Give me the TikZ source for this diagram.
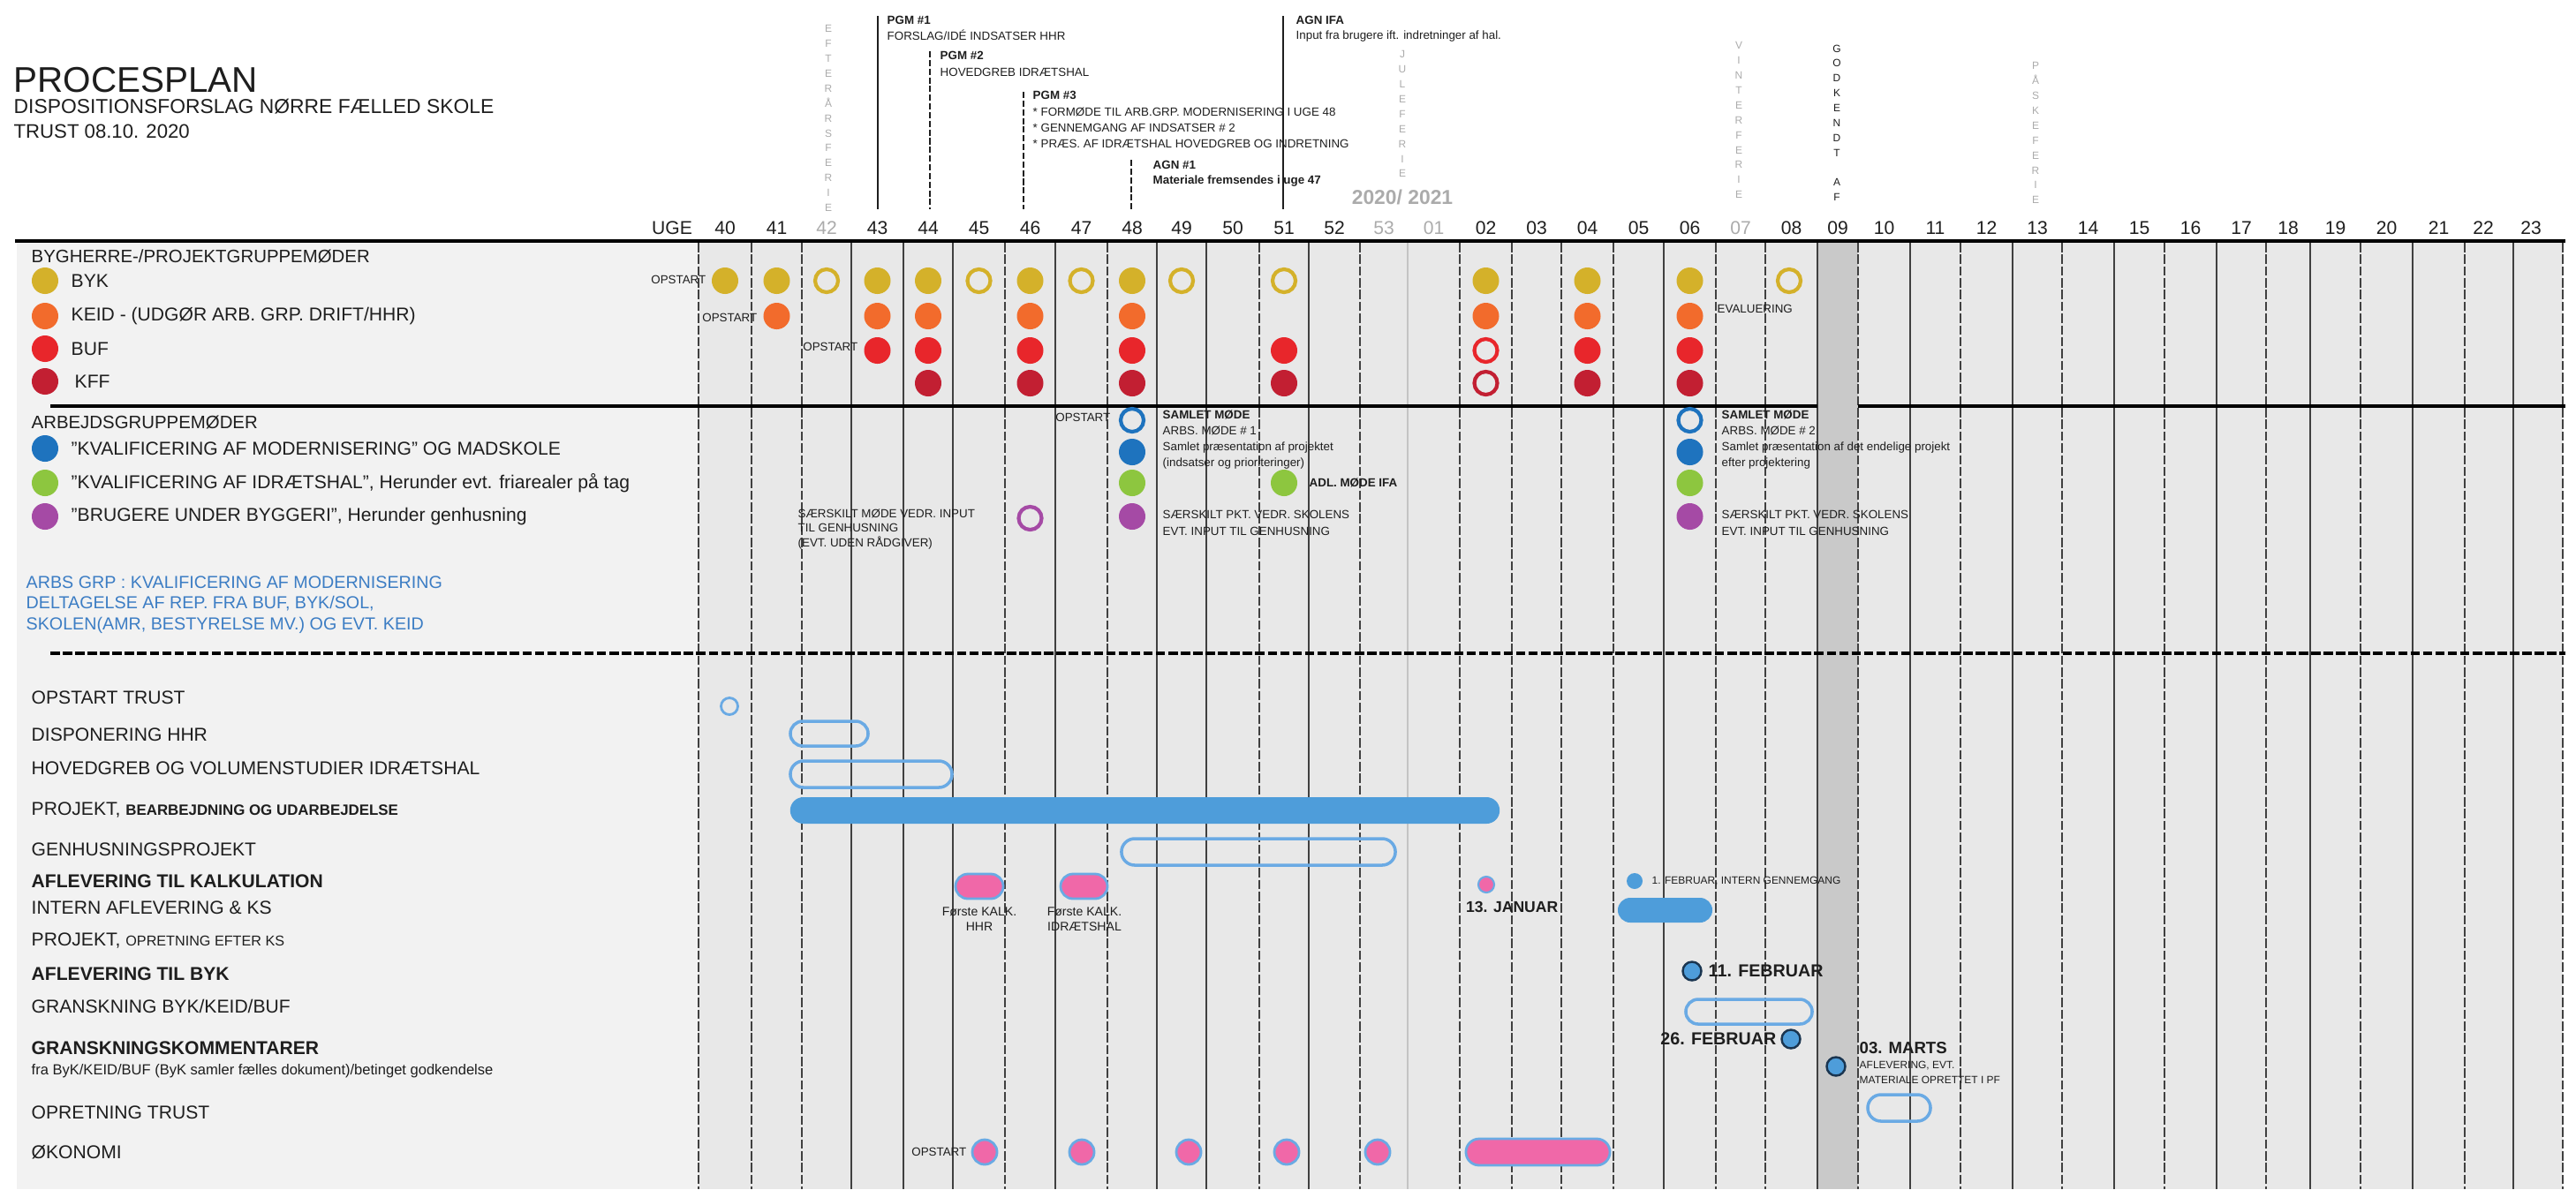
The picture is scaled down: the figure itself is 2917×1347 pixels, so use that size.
\documentclass[tikz,border=0pt]{standalone}
\usepackage{fontspec}
\setmainfont{Liberation Sans}
\usetikzlibrary{shapes.misc}

\definecolor{bykgold}{HTML}{D4B12A}
\definecolor{keidorange}{HTML}{F26B2C}
\definecolor{bufred}{HTML}{E8262B}
\definecolor{kffred}{HTML}{C21F32}
\definecolor{modblue}{HTML}{1E73BE}
\definecolor{idrgreen}{HTML}{8DC63F}
\definecolor{brugpurple}{HTML}{A54AA5}
\definecolor{barblue}{HTML}{4E9DDA}
\definecolor{ringblue}{HTML}{6AAAE4}
\definecolor{kalkpink}{HTML}{F068A8}
\definecolor{navy}{HTML}{1A3550}
\definecolor{panelgrey}{HTML}{F2F2F2}
\definecolor{colgrey}{HTML}{E8E8E8}
\definecolor{bandgrey}{HTML}{C9C9C9}
\definecolor{ferie}{HTML}{ABABAB}
\definecolor{arbsblue}{HTML}{3C7DC4}
\definecolor{ink}{HTML}{1E1E1E}

\tikzset{dot/.style = {circle, inner sep=0pt, minimum size=3mm},
         ring/.style = {circle, inner sep=0pt, minimum size=2.6mm, line width=1.2pt},
         bykdot/.style = {dot, fill=bykgold}, bykring/.style = {ring, draw=bykgold},
         keiddot/.style = {dot, fill=keidorange},
         bufdot/.style = {dot, fill=bufred}, bufring/.style = {ring, draw=bufred},
         kffdot/.style = {dot, fill=kffred}, kffring/.style = {ring, draw=kffred},
         moddot/.style = {dot, fill=modblue}, modring/.style = {ring, draw=modblue},
         idrdot/.style = {dot, fill=idrgreen},
         brugdot/.style = {dot, fill=brugpurple}, brugring/.style = {ring, draw=brugpurple},
         datodot/.style = {circle, inner sep=0pt, minimum size=2.1mm, fill=barblue, draw=navy, line width=0.7pt},
         openbar/.style = {rounded rectangle, inner sep=0pt, draw=ringblue, line width=1pt},
         fullbar/.style = {rounded rectangle, inner sep=0pt, fill=barblue},
         pinkbar/.style = {rounded rectangle, inner sep=0pt, fill=kalkpink, draw=ringblue, line width=0.8pt},
         wk/.style = {inner sep=0pt, font=\fontsize{6}{7}\selectfont, text=ink},
         lbl/.style = {anchor=west, inner sep=0pt, font=\fontsize{6}{7}\selectfont, text=ink},
         lblbf/.style = {lbl, font=\fontsize{6}{7}\selectfont\bfseries},
         note/.style = {anchor=west, inner sep=0pt, font=\fontsize{3.8}{4.6}\selectfont, text=ink},
         notebf/.style = {note, font=\fontsize{3.8}{4.6}\selectfont\bfseries},
         dato/.style = {anchor=west, inner sep=0pt, font=\fontsize{5.6}{6}\selectfont\bfseries, text=ink},
         ferietxt/.style = {anchor=north, inner sep=0pt, align=center, font=\fontsize{3.4}{4.8}\selectfont, text=ferie},
         gridsolid/.style = {draw=ink!85, line width=0.5pt},
         griddash/.style = {gridsolid, dash pattern=on 3pt off 0.8pt},
         annsolid/.style = {draw=ink, line width=0.5pt},
         anndash/.style = {annsolid, dash pattern=on 2pt off 0.8pt}}

\begin{document}
\begin{tikzpicture}[x=0.01cm, y=-0.01cm]
    \useasboundingbox (0,0) rectangle (2917,1347);
    % baggrund
    \fill[panelgrey] (19,275) rectangle (791,1347);
    \fill[colgrey] (791,275) rectangle (2902,1347);
    \fill[bandgrey] (2058,275) rectangle (2104,1347);
    % uge-linjer
    \foreach \x in {791,851,908,1138,1254,1426,1540,1653,1712,1768,1827,1943,1999,2104,2220,2335,2451,2566,2673,2791,2902}
      \draw[griddash] (\x,275) -- (\x,1347);
    \foreach \x in {964,1023,1079,1195,1310,1366,1482,1884,2058,2163,2279,2394,2510,2616,2732,2846}
      \draw[gridsolid] (\x,275) -- (\x,1347);
    \draw[draw=ferie!70, line width=0.5pt] (1594,275) -- (1594,1347);
    % vandrette linjer
    \draw[line width=1.1pt] (17,273) -- (2905,273);
    \draw[line width=1.1pt] (57,460) -- (2058,460);
    \draw[line width=1.1pt] (2104,460) -- (2905,460);
    \draw[line width=0.9pt, dash pattern=on 3pt off 1pt] (57,740) -- (2905,740);

    % titel
    \node[anchor=west, inner sep=0pt, font=\fontsize{11.5}{12}\selectfont, text=ink] (titel) at (15,91) {PROCESPLAN};
    \node[anchor=west, inner sep=0pt, font=\fontsize{6.5}{7}\selectfont, text=ink] (undertitel) at (15,121) {DISPOSITIONSFORSLAG NØRRE FÆLLED SKOLE};
    \node[anchor=west, inner sep=0pt, font=\fontsize{6.3}{7}\selectfont, text=ink] (version) at (15,149) {TRUST 08.10. 2020};

    % ferier og godkendelse
    \node[ferietxt] (efteraar) at (938,28) {E\\F\\T\\E\\R\\Å\\R\\S\\F\\E\\R\\I\\E};
    \node[ferietxt] (jul) at (1588,57) {J\\U\\L\\E\\F\\E\\R\\I\\E};
    \node[ferietxt] (vinter) at (1969,47) {V\\I\\N\\T\\E\\R\\F\\E\\R\\I\\E};
    \node[ferietxt, text=ink] (godkendt) at (2080,50) {G\\O\\D\\K\\E\\N\\D\\T\\~\\A\\F};
    \node[ferietxt] (paaske) at (2305,70) {P\\Å\\S\\K\\E\\F\\E\\R\\I\\E};
    \node[inner sep=0pt, font=\fontsize{6.5}{7}\selectfont\bfseries, text=ferie] (aarsskift) at (1588,223) {2020/ 2021};

    % moeder i toppen
    \coordinate (pgm1top) at (994,18);   \coordinate (pgm1bund) at (994,237);
    \coordinate (pgm2top) at (1053,58);  \coordinate (pgm2bund) at (1053,237);
    \coordinate (pgm3top) at (1159,104); \coordinate (pgm3bund) at (1159,237);
    \coordinate (agn1top) at (1281,181); \coordinate (agn1bund) at (1281,237);
    \coordinate (ifatop) at (1453,18);   \coordinate (ifabund) at (1453,237);
    \draw[annsolid] (pgm1top) -- (pgm1bund);
    \draw[anndash] (pgm2top) -- (pgm2bund);
    \draw[anndash] (pgm3top) -- (pgm3bund);
    \draw[anndash] (agn1top) -- (agn1bund);
    \draw[annsolid] (ifatop) -- (ifabund);
    \node[notebf] (pgm1) at (1004,23) {PGM \#1};
    \node[note] (pgm1txt) at (1004,40) {FORSLAG/IDÉ INDSATSER HHR};
    \node[notebf] (pgm2) at (1064,63) {PGM \#2};
    \node[note] (pgm2txt) at (1064,82) {HOVEDGREB IDRÆTSHAL};
    \node[notebf] (pgm3) at (1169,108) {PGM \#3};
    \node[note] (pgm3a) at (1169,127) {* FORMØDE TIL ARB.GRP. MODERNISERING I UGE 48};
    \node[note] (pgm3b) at (1169,145) {* GENNEMGANG AF INDSATSER \# 2};
    \node[note] (pgm3c) at (1169,163) {* PRÆS. AF IDRÆTSHAL HOVEDGREB OG INDRETNING};
    \node[notebf] (agn1) at (1305,187) {AGN \#1};
    \node[notebf] (agn1txt) at (1305,205) {Materiale fremsendes i uge 47};
    \node[notebf] (ifa) at (1467,23) {AGN IFA};
    \node[note] (ifatxt) at (1467,41) {Input fra brugere ift. indretninger af hal.};

    % uger
    \node[wk] (uge) at (761,258) {UGE};
    \foreach \w/\x/\c in {40/821/ink, 41/879.5/ink, 42/936/ferie, 43/993.5/ink, 44/1051/ink, 45/1108.5/ink,
        46/1166.5/ink, 47/1224.5/ink, 48/1282/ink, 49/1338/ink, 50/1396/ink, 51/1454/ink, 52/1511/ink,
        53/1567/ferie, 01/1623.5/ferie, 02/1682.5/ink, 03/1740/ink, 04/1797.5/ink, 05/1855.5/ink,
        06/1913.5/ink, 07/1971/ferie, 08/2028.5/ink, 09/2081/ink, 10/2133.5/ink, 11/2191.5/ink,
        12/2249.5/ink, 13/2307/ink, 14/2364.5/ink, 15/2422.5/ink, 16/2480.5/ink, 17/2538/ink,
        18/2591/ink, 19/2644.5/ink, 20/2702.5/ink, 21/2761.5/ink, 22/2812/ink, 23/2866/ink}
      \node[wk, text=\c] (u\w) at (\x,258) {\w};

    % bygherre-/projektgruppemoeder
    \node[lbl, font=\fontsize{5.8}{7}\selectfont] (bygherre) at (35,290) {BYGHERRE-/PROJEKTGRUPPEMØDER};
    \node[bykdot] (lbyk) at (51,318) {};   \node[lbl] (tbyk) at (80,318) {BYK};
    \node[keiddot] (lkeid) at (51,358) {}; \node[lbl] (tkeid) at (80,358) {KEID - (UDGØR ARB. GRP. DRIFT/HHR)};
    \node[bufdot] (lbuf) at (51,395) {};   \node[lbl] (tbuf) at (80,395) {BUF};
    \node[kffdot] (lkff) at (51,432) {};   \node[lbl] (tkff) at (84,432) {KFF};

    \node[bykdot] (byk40) at (821,318) {}; \node[bykdot] (byk41) at (879.5,318) {}; \node[bykring] (byk42) at (936,318) {};
    \node[bykdot] (byk43) at (993.5,318) {}; \node[bykdot] (byk44) at (1051,318) {}; \node[bykring] (byk45) at (1108.5,318) {};
    \node[bykdot] (byk46) at (1166.5,318) {}; \node[bykring] (byk47) at (1224.5,318) {}; \node[bykdot] (byk48) at (1282,318) {};
    \node[bykring] (byk49) at (1338,318) {}; \node[bykring] (byk51) at (1454,318) {};
    \node[bykdot] (byk02) at (1682.5,318) {}; \node[bykdot] (byk04) at (1797.5,318) {};
    \node[bykdot] (byk06) at (1913.5,318) {}; \node[bykring] (byk08) at (2026,318) {};

    \node[keiddot] (keid41) at (879.5,358) {}; \node[keiddot] (keid43) at (993.5,358) {}; \node[keiddot] (keid44) at (1051,358) {};
    \node[keiddot] (keid46) at (1166.5,358) {}; \node[keiddot] (keid48) at (1282,358) {};
    \node[keiddot] (keid02) at (1682.5,358) {}; \node[keiddot] (keid04) at (1797.5,358) {}; \node[keiddot] (keid06) at (1913.5,358) {};

    \node[bufdot] (buf43) at (993.5,397) {}; \node[bufdot] (buf44) at (1051,397) {}; \node[bufdot] (buf46) at (1166.5,397) {};
    \node[bufdot] (buf48) at (1282,397) {}; \node[bufdot] (buf51) at (1454,397) {};
    \node[bufring] (buf02) at (1682.5,397) {}; \node[bufdot] (buf04) at (1797.5,397) {}; \node[bufdot] (buf06) at (1913.5,397) {};

    \node[kffdot] (kff44) at (1051,434) {}; \node[kffdot] (kff46) at (1166.5,434) {}; \node[kffdot] (kff48) at (1282,434) {};
    \node[kffdot] (kff51) at (1454,434) {};
    \node[kffring] (kff02) at (1682.5,434) {}; \node[kffdot] (kff04) at (1797.5,434) {}; \node[kffdot] (kff06) at (1913.5,434) {};

    \node[note, anchor=east] (opbyk) at (800,317) {OPSTART};
    \node[note, anchor=east] (opkeid) at (858,360) {OPSTART};
    \node[note, anchor=east] (opbuf) at (972,393) {OPSTART};
    \node[note] (evaluering) at (1944,350) {EVALUERING};

    % arbejdsgruppemoeder
    \node[lbl, font=\fontsize{5.8}{7}\selectfont] (arbejd) at (35,478) {ARBEJDSGRUPPEMØDER};
    \node[moddot] (lmod) at (51,508) {};   \node[lbl] (tmod) at (80,508) {"KVALIFICERING AF MODERNISERING" OG MADSKOLE};
    \node[idrdot] (lidr) at (51,547) {};   \node[lbl] (tidr) at (80,547) {"KVALIFICERING AF IDRÆTSHAL", Herunder evt. friarealer på tag};
    \node[brugdot] (lbrug) at (51,585) {}; \node[lbl] (tbrug) at (80,585) {"BRUGERE UNDER BYGGERI", Herunder genhusning};

    \node[modring] (mod48a) at (1282,476) {}; \node[moddot] (mod48) at (1282,512) {};
    \node[idrdot] (idr48) at (1282,547) {}; \node[brugdot] (brug48) at (1282,585) {};
    \node[idrdot] (idr51) at (1454,547) {}; \node[brugring] (brug46) at (1166.5,587) {};
    \node[modring] (mod06a) at (1913.5,476) {}; \node[moddot] (mod06) at (1913.5,512) {};
    \node[idrdot] (idr06) at (1913.5,547) {}; \node[brugdot] (brug06) at (1913.5,585) {};

    \node[note, anchor=east] (opmod) at (1258,473) {OPSTART};
    \node[notebf] (samlet1) at (1316,470) {SAMLET MØDE};
    \node[note] (samlet1b) at (1316,488) {ARBS. MØDE \# 1};
    \node[note] (samlet1c) at (1316,507) {Samlet præsentation af projektet};
    \node[note] (samlet1d) at (1316,525) {(indsatser og prioriteringer)};
    \node[notebf] (samlet2) at (1949,470) {SAMLET MØDE};
    \node[note] (samlet2b) at (1949,488) {ARBS. MØDE \# 2};
    \node[note] (samlet2c) at (1949,507) {Samlet præsentation af det endelige projekt};
    \node[note] (samlet2d) at (1949,525) {efter projektering};
    \node[notebf] (adl) at (1482,547) {ADL. MØDE IFA};
    \node[note] (saer1) at (903,582) {SÆRSKILT MØDE VEDR. INPUT};
    \node[note] (saer1b) at (903,598) {TIL GENHUSNING};
    \node[note] (saer1c) at (903,615) {(EVT. UDEN RÅDGIVER)};
    \node[note] (saer2) at (1316,583) {SÆRSKILT PKT. VEDR. SKOLENS};
    \node[note] (saer2b) at (1316,602) {EVT. INPUT TIL GENHUSNING};
    \node[note] (saer3) at (1949,583) {SÆRSKILT PKT. VEDR. SKOLENS};
    \node[note] (saer3b) at (1949,602) {EVT. INPUT TIL GENHUSNING};

    \node[lbl, font=\fontsize{5.6}{7}\selectfont, text=arbsblue] (arbs1) at (29,660) {ARBS GRP : KVALIFICERING AF MODERNISERING};
    \node[lbl, font=\fontsize{5.6}{7}\selectfont, text=arbsblue] (arbs2) at (29,684) {DELTAGELSE AF REP. FRA BUF, BYK/SOL,};
    \node[lbl, font=\fontsize{5.6}{7}\selectfont, text=arbsblue] (arbs3) at (29,708) {SKOLEN(AMR, BESTYRELSE MV.) OG EVT. KEID};

    % aktiviteter
    \node[lbl] (topstart) at (35,790) {OPSTART TRUST};
    \node[lbl] (tdisp) at (35,832) {DISPONERING HHR};
    \node[lbl] (thoved) at (35,870) {HOVEDGREB OG VOLUMENSTUDIER IDRÆTSHAL};
    \node[lbl] (tprojekt) at (35,917) {PROJEKT, {\fontsize{4.8}{5}\selectfont\bfseries BEARBEJDNING OG UDARBEJDELSE}};
    \node[lbl] (tgenhus) at (35,962) {GENHUSNINGSPROJEKT};
    \node[lblbf] (tkalk) at (35,998) {AFLEVERING TIL KALKULATION};
    \node[lbl] (tintern) at (35,1028) {INTERN AFLEVERING \& KS};
    \node[lbl] (topret) at (35,1065) {PROJEKT, {\fontsize{4.6}{5}\selectfont OPRETNING EFTER KS}};
    \node[lblbf] (tbyk) at (35,1103) {AFLEVERING TIL BYK};
    \node[lbl] (tgransk) at (35,1140) {GRANSKNING BYK/KEID/BUF};
    \node[lblbf] (tkomm) at (35,1187) {GRANSKNINGSKOMMENTARER};
    \node[lbl, font=\fontsize{4.7}{5}\selectfont] (tkomm2) at (35,1213) {fra ByK/KEID/BUF (ByK samler fælles dokument)/betinget godkendelse};
    \node[lbl] (toprettrust) at (35,1260) {OPRETNING TRUST};
    \node[lbl] (tokonomi) at (35,1305) {ØKONOMI};

    \node[circle, inner sep=0pt, minimum size=1.9mm, draw=ringblue, line width=0.8pt] (opstart) at (826,800) {};
    \node[openbar, minimum width=8.8mm, minimum height=2.8mm] (disp) at (939,831) {};
    \node[openbar, minimum width=18.3mm, minimum height=3mm] (hoved) at (986.5,877) {};
    \node[fullbar, minimum width=80.3mm, minimum height=3mm] (projekt) at (1296.5,918) {};
    \node[openbar, minimum width=31mm, minimum height=3mm] (genhus) at (1425,965) {};
    \node[pinkbar, minimum width=5.4mm, minimum height=2.8mm] (kalk1) at (1109,1004) {};
    \node[pinkbar, minimum width=5.3mm, minimum height=2.8mm] (kalk2) at (1227.5,1004) {};
    \node[align=center, inner sep=0pt, font=\fontsize{4}{4.9}\selectfont, text=ink] (kalk1txt) at (1109,1041) {Første KALK.\\HHR};
    \node[align=center, inner sep=0pt, font=\fontsize{4}{4.9}\selectfont, text=ink] (kalk2txt) at (1228,1041) {Første KALK.\\IDRÆTSHAL};
    \node[circle, inner sep=0pt, minimum size=1.8mm, fill=kalkpink, draw=ringblue, line width=0.6pt] (jan13) at (1683,1002) {};
    \node[dato, anchor=east, font=\fontsize{5}{6}\selectfont\bfseries] (jan13txt) at (1765,1027) {13. JANUAR};
    \node[circle, inner sep=0pt, minimum size=1.8mm, fill=barblue] (feb1) at (1851,998) {};
    \node[note, font=\fontsize{3.4}{4}\selectfont] (feb1txt) at (1870,998) {1. FEBRUAR, INTERN GENNEMGANG};
    \node[fullbar, minimum width=10.7mm, minimum height=2.8mm] (intern) at (1885.5,1031) {};
    \node[datodot] (feb11) at (1916,1100) {};
    \node[dato] (feb11txt) at (1934,1100) {11. FEBRUAR};
    \node[openbar, minimum width=14.3mm, minimum height=2.8mm] (gransk) at (1980.5,1146) {};
    \node[datodot] (feb26) at (2028,1177) {};
    \node[dato, anchor=east] (feb26txt) at (2012,1177) {26. FEBRUAR};
    \node[datodot] (mar3) at (2079,1208) {};
    \node[dato, font=\fontsize{5.3}{6}\selectfont\bfseries] (mar3txt) at (2105,1187) {03. MARTS};
    \node[note, font=\fontsize{3.4}{4}\selectfont] (mar3b) at (2105,1207) {AFLEVERING, EVT.};
    \node[note, font=\fontsize{3.4}{4}\selectfont] (mar3c) at (2105,1223) {MATERIALE OPRETTET I PF};
    \node[openbar, minimum width=7.1mm, minimum height=3mm] (oprettrust) at (2150.5,1255) {};

    \node[note, anchor=east] (opokonomi) at (1095,1305) {OPSTART};
    \node[pinkbar, minimum width=2.7mm, minimum height=2.8mm] (oko45) at (1115,1305) {};
    \node[pinkbar, minimum width=2.7mm, minimum height=2.8mm] (oko47) at (1225,1305) {};
    \node[pinkbar, minimum width=2.7mm, minimum height=2.8mm] (oko49) at (1346,1305) {};
    \node[pinkbar, minimum width=2.7mm, minimum height=2.8mm] (oko51) at (1457,1305) {};
    \node[pinkbar, minimum width=2.7mm, minimum height=2.8mm] (oko53) at (1560,1305) {};
    \node[pinkbar, minimum width=16.3mm, minimum height=3mm] (okobar) at (1741.5,1305) {};
\end{tikzpicture}
\end{document}
